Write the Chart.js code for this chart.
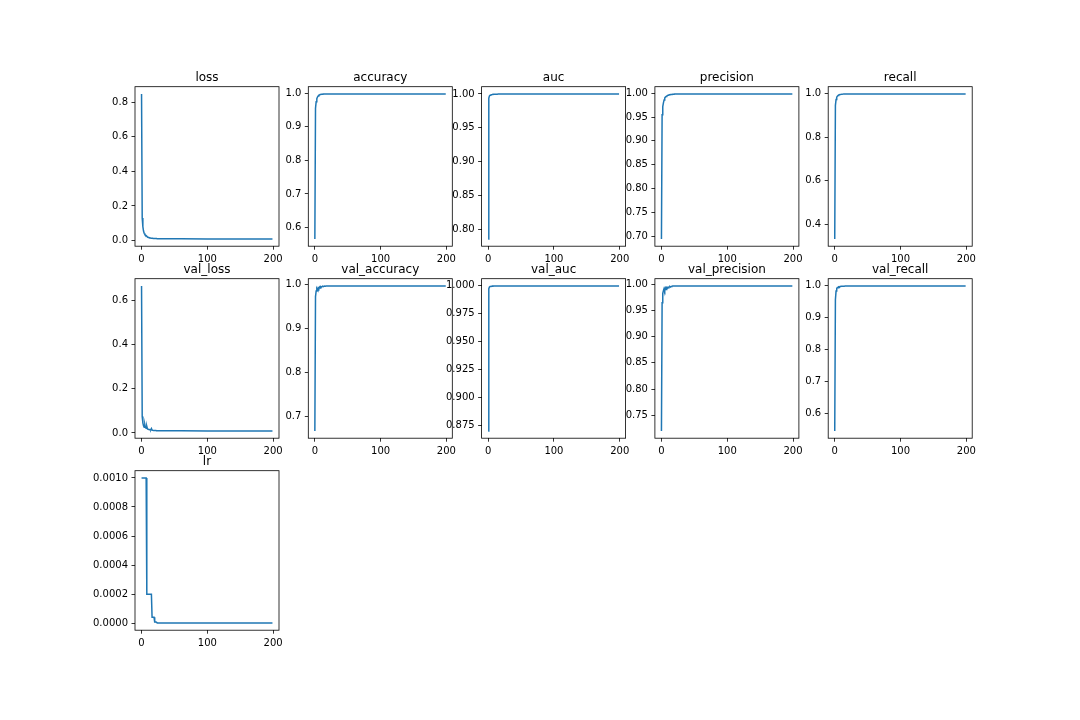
<!DOCTYPE html>
<html>
<head>
<meta charset="utf-8">
<script src="https://cdn.jsdelivr.net/npm/chart.js@4/dist/chart.umd.min.js"></script>
<style>
  html, body { margin: 0; padding: 0; background: #ffffff; }
  #fig { position: relative; width: 1080px; height: 720px; overflow: hidden; background: #ffffff; }
  #fig canvas { position: absolute; }
</style>
</head>
<body>
<div id="fig"></div>
<script>
// ---------------- data ----------------
const epochs = [0,1,2,3,4,5,6,7,8,9,10,11,12,13,14,15,16,17,18,19,20,21,22,23,24,25,30,40,60,100,150,199];

const loss = [0.848,0.13,0.08,0.055,0.042,0.035,0.031,0.028,0.024,0.021,0.019,0.017,0.016,0.015,0.014,0.0135,0.013,0.0125,0.012,0.0118,0.0115,0.0113,0.0111,0.011,0.0108,0.0106,0.0102,0.0098,0.0095,0.0093,0.0091,0.009];
const accuracy = [0.566,0.955,0.975,0.984,0.989,0.992,0.994,0.995,0.996,0.9965,0.997,0.9972,0.9974,0.9976,0.9977,0.9978,0.9979,0.998,0.998,0.998,0.998,0.998,0.998,0.998,0.998,0.998,0.998,0.998,0.998,0.998,0.998,0.998];
const auc = [0.786,0.994,0.997,0.998,0.9985,0.999,0.9992,0.9993,0.9994,0.9995,0.9996,0.9996,0.9997,0.9997,0.9997,0.9998,0.9998,0.9998,0.9998,0.9998,0.9999,0.9999,0.9999,0.9999,0.9999,0.9999,0.9999,1.0,1.0,1.0,1.0,1.0];
const precision = [0.694,0.955,0.972,0.98,0.986,0.99,0.992,0.993,0.994,0.995,0.996,0.9965,0.997,0.9972,0.9974,0.9976,0.9978,0.998,0.998,0.9982,0.9983,0.9984,0.9985,0.9985,0.9986,0.9986,0.9986,0.9986,0.9986,0.9986,0.9986,0.9986];
const recall = [0.334,0.945,0.972,0.982,0.987,0.99,0.992,0.993,0.994,0.995,0.9955,0.996,0.9962,0.9964,0.9965,0.9966,0.9967,0.9968,0.9969,0.997,0.997,0.997,0.997,0.997,0.997,0.997,0.997,0.997,0.997,0.997,0.997,0.997];
const val_loss = [0.667,0.075,0.045,0.032,0.026,0.038,0.024,0.021,0.03,0.018,0.017,0.016,0.015,0.0145,0.014,0.02,0.013,0.012,0.0115,0.011,0.0108,0.0106,0.0104,0.0102,0.0101,0.01,0.0098,0.0096,0.0094,0.0092,0.009,0.0089];
const val_accuracy = [0.666,0.972,0.985,0.99,0.987,0.992,0.99,0.994,0.992,0.995,0.994,0.995,0.9955,0.995,0.9958,0.996,0.9958,0.9962,0.9962,0.9963,0.9964,0.9964,0.9964,0.9964,0.9964,0.9964,0.9964,0.9964,0.9964,0.9964,0.9964,0.9964];
const val_auc = [0.870,0.997,0.9985,0.999,0.9991,0.9992,0.9992,0.9993,0.9993,0.9993,0.9994,0.9994,0.9994,0.9994,0.9994,0.9994,0.9994,0.9994,0.9994,0.9994,0.9994,0.9994,0.9994,0.9994,0.9994,0.9994,0.9994,0.9994,0.9994,0.9994,0.9994,0.9994];
const val_precision = [0.720,0.965,0.983,0.988,0.992,0.988,0.993,0.99,0.994,0.993,0.995,0.994,0.995,0.996,0.995,0.996,0.9965,0.997,0.997,0.997,0.997,0.997,0.997,0.997,0.997,0.997,0.997,0.997,0.997,0.997,0.997,0.997];
const val_recall = [0.545,0.955,0.982,0.99,0.993,0.992,0.995,0.994,0.996,0.9965,0.997,0.997,0.9972,0.9974,0.9975,0.9976,0.9978,0.998,0.998,0.998,0.998,0.998,0.998,0.998,0.998,0.998,0.998,0.998,0.998,0.998,0.998,0.998];
const lr = [0.001,0.001,0.001,0.001,0.001,0.001,0.001,0.001,0.0002,0.0002,0.0002,0.0002,0.0002,0.0002,0.0002,0.0002,0.00004,0.00004,0.00004,0.00004,0.000008,0.000008,0.000008,0.000008,0.0000016,0.0000016,0.0000016,0.0000016,0.0000016,0.0000016,0.0000016,0.0000016];

// tick labels
const xTickLabels = ["0","100","200"];
const lossTicks = ["0.0","0.2","0.4","0.6","0.8"];
const accuracyTicks = ["0.6","0.7","0.8","0.9","1.0"];
const aucTicks = ["0.80","0.85","0.90","0.95","1.00"];
const precisionTicks = ["0.70","0.75","0.80","0.85","0.90","0.95","1.00"];
const recallTicks = ["0.4","0.6","0.8","1.0"];
const valLossTicks = ["0.0","0.2","0.4","0.6"];
const valAccuracyTicks = ["0.7","0.8","0.9","1.0"];
const valAucTicks = ["0.875","0.900","0.925","0.950","0.975","1.000"];
const valPrecisionTicks = ["0.75","0.80","0.85","0.90","0.95","1.00"];
const valRecallTicks = ["0.6","0.7","0.8","0.9","1.0"];
const lrTicks = ["0.0000","0.0002","0.0004","0.0006","0.0008","0.0010"];

const panelTitles = ["loss","accuracy","auc","precision","recall","val_loss","val_accuracy","val_auc","val_precision","val_recall","lr"];
const panelSeries = [loss,accuracy,auc,precision,recall,val_loss,val_accuracy,val_auc,val_precision,val_recall,lr];
const panelTicks = [lossTicks,accuracyTicks,aucTicks,precisionTicks,recallTicks,valLossTicks,valAccuracyTicks,valAucTicks,valPrecisionTicks,valRecallTicks,lrTicks];

// ---------------- layout ----------------
const colLeft0 = 135, colPitch = 173.3, axW = 144;
const rowTop0 = 86.7, rowPitch = 192, axH = 159.5;
const CW = 240, CH = 230, PADL = 70, PADT = 30;
const FONT = '"DejaVu Sans", "Liberation Sans", sans-serif';

const boxAndTitle = {
  id: 'boxAndTitle',
  afterDraw(chart) {
    const a = chart.chartArea, ctx = chart.ctx;
    ctx.save();
    ctx.strokeStyle = '#000';
    ctx.lineWidth = 0.8;
    ctx.strokeRect(a.left, a.top, a.right - a.left, a.bottom - a.top);
    ctx.fillStyle = '#000';
    ctx.font = '12px ' + FONT;
    ctx.textAlign = 'center';
    ctx.textBaseline = 'alphabetic';
    ctx.fillText(chart.options.plugins.boxAndTitle.text, (a.left + a.right) / 2, a.top - 6);
    ctx.restore();
  }
};

const fig = document.getElementById('fig');
const xMin = epochs[0] - 0.05 * (epochs[epochs.length - 1] - epochs[0]);
const xMax = epochs[epochs.length - 1] + 0.05 * (epochs[epochs.length - 1] - epochs[0]);

panelTitles.forEach((title, i) => {
  const r = Math.floor(i / 5), c = i % 5;
  const axL = colLeft0 + c * colPitch;
  const axT = rowTop0 + r * rowPitch;
  const cl = Math.floor(axL) - PADL, ct = Math.floor(axT) - PADT;
  const fracL = axL - Math.floor(axL), fracT = axT - Math.floor(axT);
  const yAxisW = PADL + fracL;
  const padTop = PADT + fracT;
  const padRight = CW - yAxisW - axW;
  const xAxisH = CH - padTop - axH;

  const canvas = document.createElement('canvas');
  canvas.width = CW; canvas.height = CH;
  canvas.style.left = cl + 'px'; canvas.style.top = ct + 'px';
  canvas.style.width = CW + 'px'; canvas.style.height = CH + 'px';
  fig.appendChild(canvas);

  const vals = panelSeries[i];
  const tickLabels = panelTicks[i];
  const tickVals = tickLabels.map(Number);
  const dMin = Math.min(...vals), dMax = Math.max(...vals);
  const yMin = dMin - 0.05 * (dMax - dMin), yMax = dMax + 0.05 * (dMax - dMin);

  new Chart(canvas, {
    type: 'line',
    data: {
      datasets: [{
        data: epochs.map((e, k) => ({ x: e, y: vals[k] })),
        borderColor: '#1f77b4',
        borderWidth: 1.5,
        pointRadius: 0,
        fill: false,
        tension: 0
      }]
    },
    options: {
      responsive: false,
      animation: false,
      devicePixelRatio: 1,
      layout: { padding: { left: 0, top: padTop, right: padRight, bottom: 0 } },
      plugins: { legend: { display: false }, tooltip: { enabled: false }, title: { display: false },
                 boxAndTitle: { text: title } },
      scales: {
        x: {
          type: 'linear', min: xMin, max: xMax,
          afterBuildTicks: s => { s.ticks = xTickLabels.map(t => ({ value: Number(t) })); },
          afterFit: s => { s.height = xAxisH; },
          grid: { drawOnChartArea: false, drawTicks: true, tickLength: 3.5, color: '#000', lineWidth: 0.8 },
          border: { display: false },
          ticks: { autoSkip: false, maxRotation: 0, padding: 3.5, color: '#000',
                   font: { family: FONT, size: 10 },
                   callback: (v, idx) => xTickLabels[idx] }
        },
        y: {
          type: 'linear', min: yMin, max: yMax,
          afterBuildTicks: s => { s.ticks = tickVals.map(v => ({ value: v })); },
          afterFit: s => { s.width = yAxisW; },
          grid: { drawOnChartArea: false, drawTicks: true, tickLength: 3.5, color: '#000', lineWidth: 0.8 },
          border: { display: false },
          ticks: { autoSkip: false, padding: 3.5, color: '#000',
                   font: { family: FONT, size: 10 },
                   callback: (v, idx) => tickLabels[idx] }
        }
      }
    },
    plugins: [boxAndTitle]
  });
});
</script>
</body>
</html>
